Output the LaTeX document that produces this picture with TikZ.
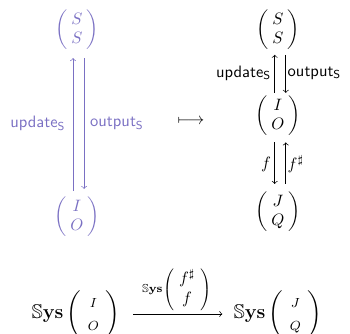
\documentclass[tikz,border=0pt]{standalone}
\usepackage{amsmath,amssymb}
\definecolor{lav}{RGB}{122,112,195}
\newcommand{\Sysx}{\mathbb{S}\mathbf{ys}}
\newcommand{\pv}[2]{\left(\setlength{\arraycolsep}{2.6pt}\begin{array}{c} #1\\ #2\end{array}\right)}
\newcommand{\spv}[2]{\left(\setlength{\arraycolsep}{4pt}\begin{array}{c} \scriptstyle #1\\ \scriptstyle #2\end{array}\right)}
\begin{document}
\begin{tikzpicture}[x=0.606pt,y=-0.606pt,
  obj/.style={inner sep=0pt,outer sep=0pt},
  lbl/.style={inner sep=0pt,font=\sffamily},
  arr/.style={->}]
\useasboundingbox (0,0) rectangle (350,334);
% left column
\begin{scope}[lav,text=lav]
\node[obj] (lSS) at (77,30) {$\pv{S}{S}$};
\node[obj] (lIO) at (77,217) {$\pv{I}{O}$};
\draw[arr,shorten <=4pt,shorten >=5pt] ([xshift=-2.4pt]lIO.north) -- node[lbl,left=4.5pt] {update$_{\mathsf{S}}$} ([xshift=-2.4pt]lSS.south);
\draw[arr,shorten <=5pt,shorten >=5pt] ([xshift=4.3pt]lSS.south) -- node[lbl,right=3.5pt] {output$_{\mathsf{S}}$} ([xshift=4.3pt]lIO.north);
\end{scope}
% mapsto
\node[obj] (ms) at (191,121) {$\longmapsto$};
% right column
\node[obj] (rSS) at (278,30) {$\pv{S}{S}$};
\node[obj] (rIO) at (278,116) {$\pv{I}{O}$};
\node[obj] (rJQ) at (278,212) {$\pv{J}{Q}$};
\draw[arr,shorten <=2pt,shorten >=3pt] ([xshift=-2pt]rIO.north) -- node[lbl,left=2pt] {update$_{\mathsf{S}}$} ([xshift=-2pt]rSS.south);
\draw[arr,shorten <=3pt,shorten >=2pt] ([xshift=4.7pt]rSS.south) -- node[lbl,right=1pt] {output$_{\mathsf{S}}$} ([xshift=4.7pt]rIO.north);
\draw[arr,shorten <=4pt,shorten >=5pt] ([xshift=-2pt]rIO.south) -- node[lbl,left=2pt] {$f$} ([xshift=-2pt]rJQ.north);
\draw[arr,shorten <=5pt,shorten >=4pt] ([xshift=4.7pt]rJQ.north) -- node[lbl,right=1pt] {$f^{\sharp}$} ([xshift=4.7pt]rIO.south);
% bottom
\node[obj,font=\large] (bL) at (76,314) {$\Sysx\spv{I}{O}$};
\node[obj,font=\large] (bR) at (278,314) {$\Sysx\spv{J}{Q}$};
\draw[arr,shorten <=8pt,shorten >=7pt] (bL.east) -- node[above=2pt,inner sep=0pt] {$\scriptstyle\Sysx\left(\setlength{\arraycolsep}{3pt}\begin{array}{c} f^{\sharp}\\ f\end{array}\right)$} (bR.west);
\end{tikzpicture}
\end{document}
